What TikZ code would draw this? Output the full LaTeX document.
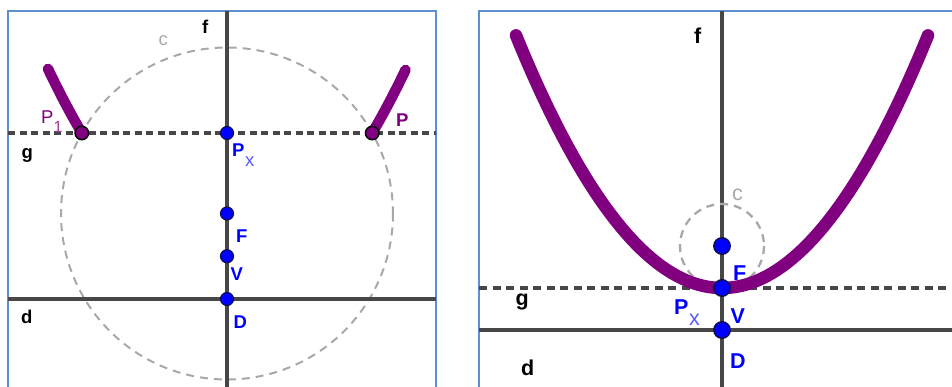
\documentclass[tikz,border=0pt]{standalone}
\usepackage{fontspec}
\setmainfont{Liberation Sans}
\definecolor{frameblue}{HTML}{5E8FCF}
\definecolor{axisgray}{HTML}{474747}
\definecolor{circgray}{HTML}{A8A8A8}
\definecolor{ggpurple}{HTML}{800080}
\definecolor{ggblue}{HTML}{0000FF}
\definecolor{subblue}{HTML}{5A5AFF}
\definecolor{subpurple}{HTML}{9A3A9A}
\definecolor{ptedge}{HTML}{10104A}
\begin{document}
\begin{tikzpicture}[x=1pt,y=-1pt,
  frame/.style={draw=frameblue,line width=2pt},
  axis/.style={draw=axisgray,line width=3.2pt},
  axisR/.style={draw=axisgray,line width=3.5pt},
  gline/.style={draw=axisgray,line width=3.4pt,dash pattern=on 7pt off 4.5pt},
  gR/.style={draw=axisgray,line width=3.8pt,dash pattern=on 8pt off 5.5pt},
  circ/.style={draw=circgray,line width=2pt,dash pattern=on 8pt off 6pt},
  circR/.style={draw=circgray,line width=2.3pt,dash pattern=on 8pt off 6pt},
  curve/.style={draw=ggpurple,line width=10.5pt,line cap=round},
  curveR/.style={draw=ggpurple,line width=12.5pt,line cap=round},
  bpt/.style={circle,fill=ggblue,draw=ptedge,line width=1.2pt,inner sep=0pt,minimum size=13pt},
  bptR/.style={circle,fill=ggblue,draw=ptedge,line width=1.4pt,inner sep=0pt,minimum size=16.5pt},
  ppt/.style={circle,fill=ggpurple,draw=black,line width=1.4pt,inner sep=0pt,minimum size=13.5pt},
  lbl/.style={inner sep=0pt,anchor=base west,font=\fontsize{18.5}{18.5}\selectfont\bfseries},
  lblR/.style={inner sep=0pt,anchor=base west,font=\fontsize{21.5}{21.5}\selectfont\bfseries}
]
\clip (0,0) rectangle (952,386);
% ---------------- left panel ----------------
\draw[frame] (8,10.7) rectangle (436,400);
\coordinate (Lc) at (227,213.5);
\draw[circ] (Lc) circle[radius=166];
\coordinate (LfT) at (227,11);
\coordinate (LfB) at (227,390);
\coordinate (LdL) at (8,299);
\coordinate (LdR) at (436,299);
\coordinate (LgL) at (8,133);
\coordinate (LgR) at (436,133);
\draw[axis] (LfT) -- (LfB);
\draw[axis] (LdL) -- (LdR);
\draw[gline] (LgL) -- (LgR);
\draw[curve] plot[domain=48:81.8,samples=20] (\x,{256.25-((\x-227)/13.077)^2});
\draw[curve] plot[domain=372.2:405.5,samples=20] (\x,{256.25-((\x-227)/13.077)^2});
\node[ppt] (LP1) at (81.8,133) {};
\node[ppt] (LP) at (372.2,133) {};
\node[bpt] (LPx) at (227,133) {};
\node[bpt] (LF) at (227,213.5) {};
\node[bpt] (LV) at (227,256.25) {};
\node[bpt] (LD) at (227,299) {};
\node[lbl,text=black] (Lf) at (202,33) {f};
\node[lbl,text=circgray,font=\fontsize{18.5}{18.5}\selectfont] (Lcl) at (158.5,45) {c};
\node[lbl,text=black] (Lg) at (21.5,158) {g};
\node[lbl,text=black] (Ld) at (21,323) {d};
\node[lbl,text=ggpurple,font=\fontsize{18.5}{18.5}\selectfont] (LP1l) at (41,123) {P\raisebox{-9pt}{\color{subpurple}\fontsize{16}{16}\selectfont 1}};
\node[lbl,text=ggpurple] (LPl) at (396,126) {P};
\node[lbl,text=ggblue] (LPxl) at (232,156) {P\hspace{0.5pt}\raisebox{-10pt}{\color{subblue}\mdseries x}};
\node[lbl,text=ggblue] (LFl) at (236,242) {F};
\node[lbl,text=ggblue] (LVl) at (230.5,280) {V};
\node[lbl,text=ggblue] (LDl) at (233.5,328.5) {D};
% ---------------- right panel ----------------
\draw[frame] (479.3,11) rectangle (960,400);
\coordinate (Rc) at (722,246);
\coordinate (RfT) at (722,11);
\coordinate (RfB) at (722,390);
\coordinate (RdL) at (479.3,330);
\coordinate (RdR) at (960,330);
\coordinate (RgL) at (479.3,288);
\coordinate (RgR) at (960,288);
\draw[axisR] (RfT) -- (RfB);
\draw[axisR] (RdL) -- (RdR);
\draw[gR] (RgL) -- (RgR);
\draw[circR] (Rc) circle[radius=42];
\draw[curveR] plot[domain=516:928,samples=80] (\x,{288-((\x-722)/12.961)^2});
\node[bptR] (RF) at (722,246) {};
\node[bptR] (RV) at (722,288) {};
\node[bptR] (RD) at (722,330) {};
\node[lblR,text=black] (Rf) at (694,43) {f};
\node[lblR,text=circgray,font=\fontsize{21.5}{21.5}\selectfont] (Rcl) at (732,200) {c};
\node[lblR,text=black] (Rg) at (515.5,305) {g};
\node[lblR,text=black] (Rd) at (521,375) {d};
\node[lblR,text=ggblue] (RFl) at (733,280) {F};
\node[lblR,text=ggblue] (RPxl) at (674,314) {P\hspace{0.5pt}\raisebox{-11pt}{\color{subblue}\mdseries x}};
\node[lblR,text=ggblue] (RVl) at (730.5,323) {V};
\node[lblR,text=ggblue] (RDl) at (730,368) {D};
\end{tikzpicture}
\end{document}
